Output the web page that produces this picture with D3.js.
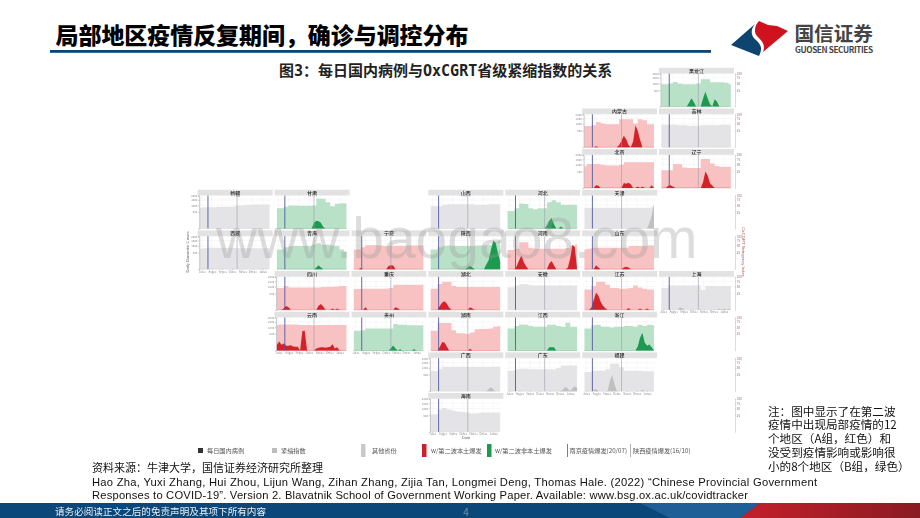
<!DOCTYPE html>
<html>
<head>
<meta charset="utf-8">
<script src="https://cdn.jsdelivr.net/npm/d3@7"></script>
<style>
body { margin: 0; background: #fff; }
svg { display: block; }
text { font-family: "Noto Sans CJK SC", "Noto Sans", sans-serif; }
</style>
</head>
<body>
<svg id="page" width="920" height="518"></svg>
<script>
// tile map of the provinces, "" = no panel
var tileRows = [
    ["", "", "", "", "", "", "黑龙江"],
    ["", "", "", "", "", "内蒙古", "吉林"],
    ["", "", "", "", "", "北京", "辽宁"],
    ["新疆", "甘肃", "", "山西", "河北", "天津", ""],
    ["西藏", "青海", "宁夏", "陕西", "河南", "山东", ""],
    ["", "四川", "重庆", "湖北", "安徽", "江苏", "上海"],
    ["", "云南", "贵州", "湖南", "江西", "浙江", ""],
    ["", "", "", "广西", "广东", "福建", ""],
    ["", "", "", "海南", "", "", ""]
];

var groupA = ["内蒙古", "北京", "辽宁", "宁夏", "河南", "山东", "四川", "重庆", "湖北", "江苏", "云南", "湖南"];
var groupB = ["黑龙江", "甘肃", "河北", "青海", "陕西", "贵州", "江西", "浙江"];

// stringency readings, one every two weeks from 26 Jun 2021
var stringencyStart = new Date(2021, 5, 26);
var stringency = {};
stringency["黑龙江"] = [46, 46, 49, 56, 49, 46, 46, 46, 49, 69, 69, 55, 55, 55, 52, 46];
stringency["内蒙古"] = [41, 41, 44, 59, 52, 49, 49, 49, 72, 72, 72, 52, 72, 67, 49, 49];
stringency["吉林"] = [46, 46, 46, 46, 44, 44, 42, 42, 42, 44, 44, 44, 44, 46, 46, 44];
stringency["北京"] = [44, 52, 52, 52, 49, 46, 46, 46, 49, 61, 61, 61, 61, 61, 61, 61];
stringency["辽宁"] = [29, 29, 29, 52, 52, 38, 36, 36, 36, 77, 77, 55, 44, 41, 41, 41];
stringency["新疆"] = [40, 42, 42, 42, 44, 44, 44, 44, 49, 49, 52, 52, 53, 53, 53, 53];
stringency["甘肃"] = [38, 38, 44, 49, 49, 48, 48, 48, 49, 83, 81, 64, 46, 56, 59, 59];
stringency["山西"] = [46, 46, 46, 52, 54, 54, 54, 54, 54, 54, 52, 52, 52, 54, 54, 54];
stringency["河北"] = [28, 28, 38, 58, 55, 38, 34, 38, 38, 64, 74, 64, 52, 52, 52, 52];
stringency["天津"] = [40, 40, 40, 40, 40, 40, 40, 40, 40, 40, 40, 40, 40, 40, 40, 45];
stringency["西藏"] = [38, 40, 42, 42, 42, 42, 42, 42, 40, 40, 40, 40, 40, 40, 40, 40];
stringency["青海"] = [36, 36, 44, 48, 49, 49, 49, 49, 55, 62, 55, 55, 52, 49, 36, 29];
stringency["宁夏"] = [36, 36, 44, 53, 53, 53, 50, 49, 49, 49, 50, 50, 52, 52, 52, 52];
stringency["陕西"] = [36, 36, 44, 49, 52, 49, 49, 49, 49, 49, 52, 52, 52, 55, 67, 74];
stringency["河南"] = [34, 34, 38, 67, 67, 42, 38, 38, 38, 38, 38, 38, 38, 41, 49, 56];
stringency["山东"] = [36, 38, 42, 42, 42, 42, 42, 42, 42, 42, 49, 49, 49, 49, 52, 52];
stringency["四川"] = [44, 44, 52, 46, 46, 46, 46, 46, 46, 46, 48, 49, 49, 50, 52, 52];
stringency["重庆"] = [40, 40, 41, 41, 41, 41, 41, 41, 44, 58, 58, 58, 58, 58, 58, 58];
stringency["湖北"] = [41, 41, 61, 72, 72, 52, 48, 48, 48, 48, 48, 48, 48, 48, 48, 48];
stringency["安徽"] = [47, 47, 55, 60, 60, 56, 55, 55, 55, 55, 55, 55, 55, 55, 55, 55];
stringency["江苏"] = [38, 38, 52, 72, 72, 58, 44, 44, 41, 41, 44, 55, 46, 41, 38, 38];
stringency["上海"] = [44, 44, 55, 55, 55, 55, 55, 55, 55, 36, 52, 52, 52, 52, 52, 52];
stringency["云南"] = [60, 62, 62, 62, 62, 60, 60, 60, 58, 60, 60, 60, 60, 60, 60, 60];
stringency["贵州"] = [36, 36, 38, 44, 44, 44, 44, 44, 44, 64, 61, 61, 59, 59, 58, 58];
stringency["湖南"] = [36, 36, 69, 69, 69, 38, 27, 27, 25, 30, 41, 42, 42, 44, 52, 55];
stringency["江西"] = [44, 44, 55, 62, 61, 55, 52, 52, 52, 61, 61, 55, 52, 71, 52, 52];
stringency["浙江"] = [44, 44, 58, 61, 52, 52, 49, 52, 52, 55, 55, 52, 61, 55, 61, 58];
stringency["广西"] = [37, 37, 45, 55, 55, 55, 55, 55, 55, 55, 55, 55, 55, 55, 55, 55];
stringency["广东"] = [38, 38, 44, 46, 46, 44, 44, 44, 44, 44, 44, 49, 61, 61, 61, 61];
stringency["福建"] = [34, 34, 38, 38, 38, 44, 69, 69, 52, 38, 38, 38, 38, 36, 36, 36];
stringency["海南"] = [28, 28, 46, 52, 46, 41, 38, 36, 34, 31, 32, 34, 34, 34, 34, 34];

// daily case readings as [week number from 26 Jun 2021, cases], weeks not listed are zero
var weekCount = 31;
var cases = {};
cases["黑龙江"] = [[12, 30], [13, 125], [14, 40], [18, 120], [19, 400], [20, 130], [21, 10], [23, 100], [24, 50]];
cases["内蒙古"] = [[5, 2], [15, 10], [16, 80], [17, 245], [18, 120], [19, 10], [21, 60], [22, 870], [23, 500], [24, 100]];
cases["北京"] = [[5, 13], [6, 8], [17, 45], [18, 30], [19, 50], [20, 25], [23, 4], [25, 3], [29, 13]];
cases["辽宁"] = [[3, 8], [4, 13], [5, 4], [18, 60], [19, 500], [20, 280], [21, 40], [22, 10]];
cases["甘肃"] = [[16, 60], [17, 115], [18, 100], [19, 60], [20, 4]];
cases["河北"] = [[17, 15], [18, 110], [19, 200], [20, 40], [23, 8]];
cases["天津"] = [[28, 50], [29, 300], [30, 1100]];
cases["青海"] = [[17, 6], [18, 29], [19, 6]];
cases["宁夏"] = [[3, 3], [15, 20], [16, 29], [17, 25]];
cases["陕西"] = [[16, 8], [17, 20], [18, 5], [24, 40], [25, 150], [26, 700], [27, 1500], [28, 1300], [29, 500], [30, 100]];
cases["河南"] = [[4, 20], [5, 150], [6, 350], [7, 90], [8, 15], [18, 60], [19, 125], [20, 30], [26, 4], [27, 200], [28, 1100], [29, 900]];
cases["山东"] = [[5, 29], [6, 5], [17, 6], [18, 10], [19, 6]];
cases["四川"] = [[3, 5], [4, 29], [5, 12], [18, 30], [19, 65], [20, 20], [24, 3], [26, 3]];
cases["重庆"] = [[5, 13], [18, 13], [19, 5]];
cases["湖北"] = [[4, 30], [5, 100], [6, 135], [7, 70], [8, 8], [17, 13], [18, 3]];
cases["江苏"] = [[3, 8], [4, 180], [5, 540], [6, 380], [7, 120], [8, 30], [9, 5], [19, 6], [24, 3], [27, 3]];
cases["上海"] = [[8, 10], [9, 5], [25, 3], [27, 3], [29, 3]];
cases["云南"] = [[0, 60], [1, 145], [2, 60], [3, 90], [4, 40], [5, 40], [6, 50], [7, 30], [8, 25], [9, 25], [11, 700], [12, 720], [17, 8], [18, 15], [19, 20], [20, 20], [21, 15], [22, 20], [23, 25], [24, 70], [25, 8], [26, 20]];
cases["贵州"] = [[16, 10], [17, 45], [18, 8], [20, 3], [26, 4]];
cases["湖南"] = [[4, 25], [5, 135], [6, 110], [7, 25], [17, 5]];
cases["江西"] = [[18, 20], [19, 20], [20, 20]];
cases["浙江"] = [[23, 30], [24, 300], [25, 580], [26, 120], [27, 40], [28, 65], [29, 20]];
cases["广西"] = [[25, 6], [26, 30], [27, 5]];
cases["广东"] = [[24, 6], [25, 30], [26, 10], [28, 15], [29, 40], [30, 20]];
cases["福建"] = [[4, 4], [5, 8], [11, 200], [12, 480], [13, 80], [25, 3]];

var caseTicks = [500, 1000, 1500, 2000];
var indexTicks = [25, 50, 75, 100];
var monthTicks = [new Date(2021, 6, 1), new Date(2021, 7, 1), new Date(2021, 8, 1), new Date(2021, 9, 1),
    new Date(2021, 10, 1), new Date(2021, 11, 1), new Date(2022, 0, 1)];
var nanjingDate = new Date(2021, 6, 20);
var shaanxiDate = new Date(2021, 9, 16);

var svg = d3.select("#page");

var panelW = 75, headH = 5.8, plotH = 33;
var dayMs = 24 * 3600 * 1000;

var colX = d3.scaleLinear().domain([0, 6]).range([197.7, 659]);
var rowY = d3.scaleLinear().domain([0, 8]).range([67.8, 393]);

var x = d3.scaleTime().domain([new Date(2021, 5, 19), new Date(2022, 0, 31, 12)]).range([0, panelW]);
var yCases = d3.scaleSqrt().domain([0, 2000]).range([plotH, 0]);
var yIndex = d3.scaleSqrt().domain([0, 100]).range([plotH, 0]);

var areaIndex = d3.area().curve(d3.curveStep).x(function(d) { return x(d.date); }).y0(plotH).y1(function(d) { return yIndex(d.value); });
var areaCases = d3.area().x(function(d) { return x(d.date); }).y0(plotH).y1(function(d) { return yCases(d.value); });

function colours(name) {
    if (groupA.indexOf(name) >= 0) return { fill: "#f8c2c2", dark: "#d3222a" };
    if (groupB.indexOf(name) >= 0) return { fill: "#b9e1c8", dark: "#1f9a50" };
    return { fill: "#e4e4e6", dark: "#c0c0c0" };
}

var defs = svg.append("defs");
defs.append("filter").attr("id", "soft").attr("x", "-5%").attr("y", "-5%").attr("width", "110%").attr("height", "110%")
    .append("feGaussianBlur").attr("stdDeviation", 0.35);

// title block
svg.append("text").attr("x", 55.5).attr("y", 43.5).attr("font-size", 23).attr("font-weight", 900).attr("fill", "#000")
    .attr("textLength", 413).text("局部地区疫情反复期间，确诊与调控分布");
svg.append("rect").attr("x", 50).attr("y", 50).attr("width", 661).attr("height", 2.8).attr("fill", "#0e4470");
svg.append("text").attr("x", 279).attr("y", 76).attr("font-size", 15).attr("font-weight", 700).attr("fill", "#222")
    .style("font-family", "'DejaVu Sans Mono', 'Noto Sans CJK SC'")
    .text("图3：每日国内病例与OxCGRT省级紧缩指数的关系");

// logo
var logo = svg.append("g");
logo.append("path").attr("fill", "#d0121f")
    .attr("d", "M759 21 L768 25 L777 26 L788 31 L763 52 C766 44 761 40 757 36 C754 33 754 26 759 21 Z");
logo.append("path").attr("fill", "#0e4470")
    .attr("d", "M755 24 C750 30 751 36 756 40 C761 45 763 48 759 56 L731 45 Z");
logo.append("text").attr("x", 794.5).attr("y", 40.5).attr("font-size", 19.6).attr("font-weight", 700).attr("fill", "#444").text("国信证券");
logo.append("text").attr("x", 795).attr("y", 53).attr("font-size", 8.2).attr("font-weight", 700).attr("fill", "#444")
    .attr("textLength", 78).text("GUOSEN SECURITIES");

var chart = svg.append("g").attr("filter", "url(#soft)");

// right axis runs down the full height of the map on every row
tileRows.forEach(function(row, r) {
    var g = chart.append("g").attr("transform", "translate(735," + (rowY(r) + headH) + ")");
    g.call(d3.axisRight(yIndex).tickValues(indexTicks).tickSize(1).tickPadding(0.8));
    g.selectAll("path,line").attr("stroke", "#dfa6ac").attr("stroke-width", 0.5);
    g.selectAll("text").attr("font-size", 3).attr("fill", "#a8686e");
});

tileRows.forEach(function(row, r) {
    row.forEach(function(name, c) {
        if (name === "") return;

        var col = colours(name);
        var panel = chart.append("g").attr("transform", "translate(" + colX(c) + "," + rowY(r) + ")");

        panel.append("rect").attr("width", panelW).attr("height", headH).attr("fill", "#e2e2e2");
        panel.append("text").attr("x", panelW / 2).attr("y", headH - 1).attr("text-anchor", "middle")
            .attr("font-size", 5).attr("font-weight", 500).attr("fill", "#222").text(name);

        var plot = panel.append("g").attr("transform", "translate(0," + headH + ")");

        plot.selectAll(".gy").data(caseTicks).enter().append("line")
            .attr("x1", 2).attr("x2", panelW - 2)
            .attr("y1", function(d) { return yCases(d); }).attr("y2", function(d) { return yCases(d); })
            .attr("stroke", "#f1f1f1").attr("stroke-width", 0.5);
        plot.selectAll(".gx").data(monthTicks).enter().append("line")
            .attr("x1", function(d) { return x(d); }).attr("x2", function(d) { return x(d); })
            .attr("y1", 0).attr("y2", plotH)
            .attr("stroke", "#f1f1f1").attr("stroke-width", 0.5);

        var indexData = stringency[name].map(function(v, i) {
            return { date: new Date(+stringencyStart + i * 14 * dayMs), value: v };
        });
        plot.append("path").datum(indexData).attr("d", areaIndex).attr("fill", col.fill);

        var weekly = d3.range(weekCount).map(function() { return 0; });
        (cases[name] || []).forEach(function(p) { weekly[p[0]] = p[1]; });
        var caseData = weekly.map(function(v, i) {
            return { date: new Date(+stringencyStart + i * 7 * dayMs), value: v };
        });
        if (cases[name]) {
            plot.append("path").datum(caseData).attr("d", areaCases).attr("fill", col.dark);
        }

        plot.append("line").attr("x1", x(stringencyStart)).attr("x2", x(caseData[weekCount - 1].date))
            .attr("y1", plotH).attr("y2", plotH).attr("stroke", col.dark).attr("stroke-width", 0.4).attr("stroke-opacity", 0.7);

        plot.append("line").attr("x1", x(nanjingDate)).attr("x2", x(nanjingDate)).attr("y1", 0).attr("y2", plotH)
            .attr("stroke", "#4f5aa0").attr("stroke-width", 0.9);
        plot.append("line").attr("x1", x(shaanxiDate)).attr("x2", x(shaanxiDate)).attr("y1", 0).attr("y2", plotH)
            .attr("stroke", "#9c9cac").attr("stroke-width", 0.6);

        // first panel of a row carries the case axis
        var first = row.findIndex(function(n) { return n !== ""; });
        if (c === first) {
            var ay = plot.append("g").attr("transform", "translate(1.5,0)")
                .call(d3.axisLeft(yCases).tickValues(caseTicks).tickFormat(d3.format("d")).tickSize(1).tickPadding(0.8));
            ay.selectAll("path,line").attr("stroke", "#777").attr("stroke-width", 0.4);
            ay.selectAll("text").attr("font-size", 2.8).attr("fill", "#888");
        }

        // lowest panel of a column carries the date axis
        var lastRow = d3.max(tileRows.map(function(t, i) { return t[c] !== "" ? i : -1; }));
        if (r === lastRow) {
            var ax = plot.append("g").attr("transform", "translate(0," + plotH + ")")
                .call(d3.axisBottom(x).tickValues(monthTicks).tickFormat(d3.timeFormat("%b%y")).tickSize(1).tickPadding(0.6));
            ax.select(".domain").remove();
            ax.selectAll("line").attr("stroke", "#999").attr("stroke-width", 0.4);
            ax.selectAll("text").attr("font-size", 2.8).attr("fill", "#888");
        }
    });
});

chart.append("text").attr("transform", "translate(188.5,252) rotate(-90)").attr("text-anchor", "middle")
    .attr("font-size", 4.2).attr("fill", "#666").style("font-family", "'Liberation Sans'").text("Daily Domestic Cases");
chart.append("text").attr("transform", "translate(742,252) rotate(90)").attr("text-anchor", "middle")
    .attr("font-size", 4.2).attr("fill", "#a8585e").style("font-family", "'Liberation Sans'").text("OxCGRT Stringency Index");
chart.append("text").attr("x", 466).attr("y", 439).attr("text-anchor", "middle")
    .attr("font-size", 4).attr("fill", "#666").style("font-family", "'Liberation Sans'").text("Date");

// legend
var legendKeys = [
    { label: "每日国内病例", mx: 198, tx: 207, w: 5, h: 5, fill: "#333" },
    { label: "紧缩指数", mx: 272, tx: 281, w: 5, h: 5, fill: "#bdbdbd" },
    { label: "其他省份", mx: 361, tx: 372, w: 4.5, h: 13, fill: "#c9c9c9" },
    { label: "w/第二波本土爆发", mx: 422, tx: 431, w: 4.5, h: 13, fill: "#c9242c" },
    { label: "w/第二波非本土爆发", mx: 487, tx: 495, w: 4.5, h: 13, fill: "#1f9a50" },
    { label: "南京疫情爆发(20/07)", mx: 567, tx: 569.5, w: 0.8, h: 13, fill: "#4f5aa0" },
    { label: "陕西疫情爆发(16/10)", mx: 630, tx: 633, w: 0.8, h: 13, fill: "#a0a0a8" }
];
legendKeys.forEach(function(k) {
    chart.append("rect").attr("x", k.mx).attr("y", 450.5 - k.h / 2).attr("width", k.w).attr("height", k.h).attr("fill", k.fill);
    chart.append("text").attr("x", k.tx).attr("y", 452.5).attr("font-size", 6.2).attr("fill", "#555").text(k.label);
});

// watermark
svg.append("text").attr("x", 216).attr("y", 258).attr("font-size", 57).attr("fill", "#999").attr("opacity", 0.33)
    .style("font-family", "'Liberation Sans'").text("www.baogao8.com");

// source lines
svg.append("text").attr("x", 92).attr("y", 472).attr("font-size", 11).attr("fill", "#111").text("资料来源：牛津大学，国信证券经济研究所整理");
svg.append("text").attr("x", 92).attr("y", 486).attr("font-size", 11.2).attr("fill", "#111")
    .attr("textLength", 725).style("font-family", "'Liberation Sans', 'Noto Sans CJK SC'")
    .text("Hao Zha, Yuxi Zhang, Hui Zhou, Lijun Wang, Zihan Zhang, Zijia Tan, Longmei Deng, Thomas Hale. (2022) “Chinese Provincial Government");
svg.append("text").attr("x", 92).attr("y", 499).attr("font-size", 11.2).attr("fill", "#111")
    .attr("textLength", 656).style("font-family", "'Liberation Sans', 'Noto Sans CJK SC'")
    .text("Responses to COVID-19”. Version 2. Blavatnik School of Government Working Paper. Available: www.bsg.ox.ac.uk/covidtracker");

// note
var noteLines = ["注：图中显示了在第二波", "疫情中出现局部疫情的12", "个地区（A组，红色）和", "没受到疫情影响或影响很", "小的8个地区（B组，绿色）"];
noteLines.forEach(function(t, i) {
    svg.append("text").attr("x", 768).attr("y", 415.5 + i * 13.8).attr("font-size", 11.6).attr("fill", "#111").text(t);
});

// footer band
var band = defs.append("linearGradient").attr("id", "redBand");
band.append("stop").attr("offset", 0).attr("stop-color", "#c4202b");
band.append("stop").attr("offset", 1).attr("stop-color", "#8a1b22");
svg.append("rect").attr("x", 0).attr("y", 503).attr("width", 920).attr("height", 15).attr("fill", "#0b4778");
svg.append("path").attr("d", "M640 503 L760 503 L740 518 L670 518 Z").attr("fill", "#1d5f96");
svg.append("path").attr("d", "M760 503 L920 503 L920 518 L740 518 Z").attr("fill", "url(#redBand)");
svg.append("text").attr("x", 55).attr("y", 515).attr("font-size", 9.6).attr("fill", "#e8eef4").text("请务必阅读正文之后的免责声明及其项下所有内容");
svg.append("text").attr("x", 466).attr("y", 516).attr("font-size", 10).attr("fill", "#6f93b3").attr("text-anchor", "middle").text("4");
</script>
</body>
</html>
